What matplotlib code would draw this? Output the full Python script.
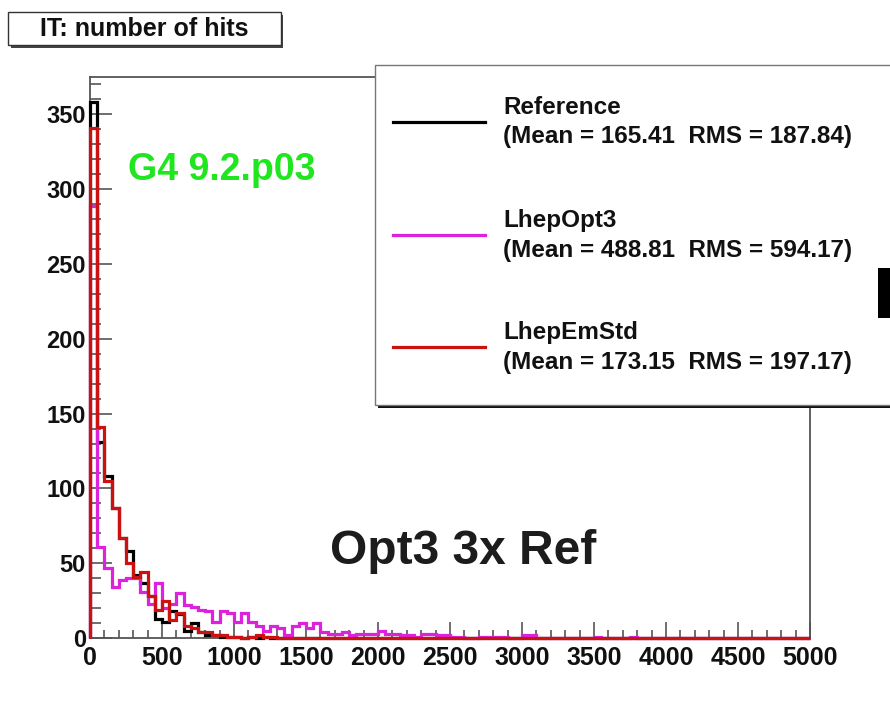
import numpy as np
import matplotlib
matplotlib.use("Agg")
import matplotlib.pyplot as plt
from matplotlib.lines import Line2D
from matplotlib.patches import Rectangle
from matplotlib.ticker import MultipleLocator

plt.rcParams['font.family'] = ['Liberation Sans', 'DejaVu Sans']

# ---------------- data ----------------
bin_width = 50
x_min, x_max = 0, 5000

ref_counts = [
    358, 131, 108, 87, 67, 58, 42, 37, 28, 13,
    11, 18, 16, 5, 10, 4, 2, 2, 1, 1,
    1, 0, 1, 0, 1, 0, 0, 0, 0, 0,
    0, 0, 0, 0, 0, 0, 0, 0, 0, 0,
    0, 0, 0, 0, 0, 0, 0, 0, 0, 0,
    0, 0, 0, 0, 0, 0, 0, 0, 0, 0,
    0, 0, 0, 0, 0, 0, 0, 0, 0, 0,
    0, 0, 0, 0, 0, 0, 0, 0, 0, 0,
    0, 0, 0, 0, 0, 0, 0, 0, 0, 0,
    0, 0, 0, 0, 0, 0, 0, 0, 0, 0,
]

opt3_counts = [
    289, 61, 47, 34, 39, 40, 40, 31, 23, 37,
    20, 23, 30, 22, 21, 19, 18, 11, 18, 17,
    11, 17, 11, 8, 5, 8, 7, 2, 8, 10,
    7, 10, 4, 3, 3, 4, 2, 3, 3, 3,
    5, 3, 3, 2, 2, 1, 3, 3, 2, 2,
    1, 1, 0, 0, 1, 1, 1, 1, 0, 0,
    2, 2, 0, 0, 0, 0, 0, 0, 0, 0,
    1, 0, 0, 0, 0, 1, 0, 0, 0, 0,
    0, 0, 0, 0, 0, 0, 0, 0, 0, 0,
    0, 0, 0, 0, 0, 0, 0, 0, 0, 0,
]

emstd_counts = [
    341, 141, 105, 87, 67, 50, 41, 44, 28, 19,
    25, 12, 17, 8, 7, 4, 4, 2, 2, 1,
    1, 0, 1, 2, 1, 1, 0, 0, 0, 0,
    0, 0, 0, 0, 0, 0, 0, 0, 0, 0,
    0, 0, 0, 0, 0, 0, 0, 0, 0, 0,
    0, 0, 0, 0, 0, 0, 0, 0, 0, 0,
    0, 0, 0, 0, 0, 0, 0, 0, 0, 0,
    0, 0, 0, 0, 0, 0, 0, 0, 0, 0,
    0, 0, 0, 0, 0, 0, 0, 0, 0, 0,
    0, 0, 0, 0, 0, 0, 0, 0, 0, 0,
]

series_names = ["Reference", "LhepOpt3", "LhepEmStd"]
series_stats = ["(Mean = 165.41  RMS = 187.84)",
                "(Mean = 488.81  RMS = 594.17)",
                "(Mean = 173.15  RMS = 197.17)"]
series_colors = ["#000000", "#dd22dd", "#cc1111"]

title_text = "IT: number of hits"
version_text = "G4 9.2.p03"
note_text = "Opt3 3x Ref"

# ---------------- figure ----------------
W, H = 890, 704
fig = plt.figure(figsize=(W / 100, H / 100), dpi=100)
fig.patch.set_facecolor("white")


def fx(px):
    return px / W


def fy(py):
    return 1 - py / H


ax_l, ax_r, ax_t, ax_b = 90, 810, 77, 638
ax = fig.add_axes([fx(ax_l), fy(ax_b), fx(ax_r) - fx(ax_l), fy(ax_t) - fy(ax_b)])

edges = np.arange(x_min, x_max + bin_width, bin_width)
for counts, col in zip([ref_counts, opt3_counts, emstd_counts], series_colors):
    ax.stairs(counts, edges, baseline=0, color=col, linewidth=2.3,
              clip_on=False, zorder=3)

ax.set_xlim(x_min, x_max)
ax.set_ylim(0, 375)

ax.xaxis.set_major_locator(MultipleLocator(500))
ax.xaxis.set_minor_locator(MultipleLocator(100))
ax.yaxis.set_major_locator(MultipleLocator(50))
ax.yaxis.set_minor_locator(MultipleLocator(10))

ax.tick_params(axis="y", which="major", direction="in", length=16, width=1.2,
               color="#555555", pad=3, labelsize=17)
ax.tick_params(axis="y", which="minor", direction="in", length=8, width=1.2,
               color="#555555")
ax.tick_params(axis="x", which="major", direction="in", length=11.5, width=1.2,
               color="#555555", pad=6, labelsize=18)
ax.tick_params(axis="x", which="minor", direction="in", length=6, width=1.2,
               color="#555555")
for lab in ax.get_xticklabels() + ax.get_yticklabels():
    lab.set_fontweight("bold")
    lab.set_color("#111111")

for s in ["left", "bottom", "right", "top"]:
    ax.spines[s].set_color("#555555")
    ax.spines[s].set_linewidth(1.3)

ax.text(0.053, 0.835, version_text, transform=ax.transAxes, color="#1fe61f",
        fontsize=27, fontweight="bold", ha="left", va="center")
ax.text(0.518, 0.155, note_text, transform=ax.transAxes, color="#1c1c1c",
        fontsize=34.5, fontweight="bold", ha="center", va="center")

# ---------------- title box ----------------
fig.patches.append(Rectangle((fx(11), fy(48)), fx(283) - fx(11), fy(12) - fy(45),
                             transform=fig.transFigure, facecolor="#444444",
                             edgecolor="none", zorder=4))
fig.patches.append(Rectangle((fx(8), fy(45)), fx(281) - fx(8), fy(12) - fy(45),
                             transform=fig.transFigure, facecolor="white",
                             edgecolor="#333333", linewidth=1.0, zorder=5))
fig.text(fx(144), fy(29), title_text, fontsize=18, fontweight="bold",
         ha="center", va="center", color="#111111", zorder=6)

# ---------------- legend box ----------------
fig.patches.append(Rectangle((fx(378), fy(408)), fx(900) - fx(378), fy(68) - fy(408),
                             transform=fig.transFigure, facecolor="#111111",
                             edgecolor="none", zorder=7))
fig.patches.append(Rectangle((fx(375), fy(405)), fx(900) - fx(375), fy(65) - fy(405),
                             transform=fig.transFigure, facecolor="white",
                             edgecolor="#777777", linewidth=1.0, zorder=8))

line_y = [122, 235, 347]
for i, (name, stat, col) in enumerate(zip(series_names, series_stats, series_colors)):
    yl = line_y[i]
    fig.add_artist(Line2D([fx(393), fx(485)], [fy(yl), fy(yl)], color=col,
                          linewidth=2.3, transform=fig.transFigure, zorder=9))
    fig.text(fx(503), fy(yl - 14), name, fontsize=17.5, fontweight="bold",
             ha="left", va="center", color="#111111", zorder=9)
    fig.text(fx(503), fy(yl + 15), stat, fontsize=17.5, fontweight="bold",
             ha="left", va="center", color="#111111", zorder=9)

# small black block at the right edge
fig.patches.append(Rectangle((fx(878), fy(318)), fx(890) - fx(878), fy(268) - fy(318),
                             transform=fig.transFigure, facecolor="black",
                             edgecolor="none", zorder=10))

fig.savefig("out.png", dpi=100)
